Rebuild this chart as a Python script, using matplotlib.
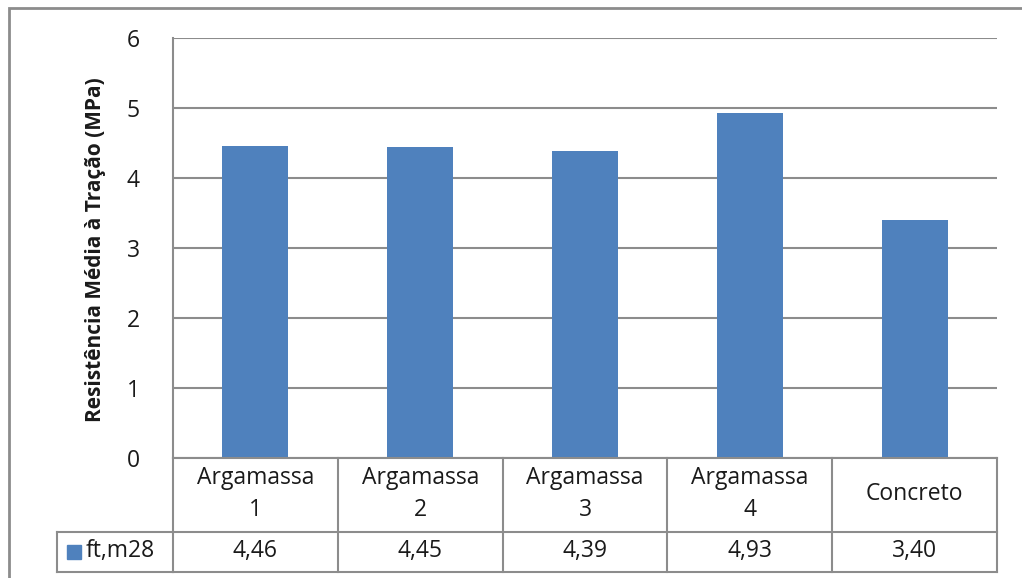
import matplotlib
matplotlib.use("Agg")
import matplotlib.pyplot as plt
from matplotlib.patches import Rectangle
from matplotlib.lines import Line2D
from matplotlib.transforms import blended_transform_factory

# data
categories = ["Argamassa\n1", "Argamassa\n2", "Argamassa\n3", "Argamassa\n4", "Concreto"]
values = [4.46, 4.45, 4.39, 4.93, 3.40]
value_labels = ["4,46", "4,45", "4,39", "4,93", "3,40"]
series_name = "ft,m28"
y_label = "Resistência Média à Tração (MPa)"
y_ticks = [0, 1, 2, 3, 4, 5, 6]

W, H = 1022, 578
BAR = "#4F81BD"
GRID = "#8C8C8C"
TXT = "#1a1a1a"
FS = 16.5

plt.rcParams["font.family"] = ["Open Sans", "DejaVu Sans"]

fig = plt.figure(figsize=(W / 100, H / 100), dpi=100)
fig.patch.set_facecolor("white")


def fx(x):
    return x / W


def fy(y):
    return 1 - y / H


# plot area in pixel terms
left, right, top, bottom = 173, 997, 38, 458
ax = fig.add_axes([fx(left), fy(bottom), fx(right - left), (bottom - top) / H])

x = list(range(len(values)))
ax.bar(x, values, width=0.4, color=BAR, zorder=3)
ax.set_xlim(-0.5, len(values) - 0.5)
ax.set_ylim(0, 6)
ax.set_yticks(y_ticks)
ax.set_yticklabels([str(t) for t in y_ticks], fontsize=FS, color=TXT)
ax.tick_params(axis="y", length=0, pad=24)
ax.set_xticks([])
ax.yaxis.grid(True, color=GRID, lw=1.5, zorder=0)
for s in ["top", "right", "bottom"]:
    ax.spines[s].set_visible(False)
ax.spines["left"].set_color(GRID)
ax.spines["left"].set_linewidth(1.5)

fig.text(fx(96), fy(250), y_label, rotation=90, ha="center", va="center",
         fontsize=15, fontweight="bold", color=TXT)

# data table below the plot: x in data units, y in figure units
tr = blended_transform_factory(ax.transData, fig.transFigure)
row1, row2, row3 = fy(458), fy(532), fy(572)
x0, x1 = -0.5, len(values) - 0.5

line_kw = dict(color=GRID, lw=1.5, transform=tr, clip_on=False)
fig.add_artist(Line2D([x0, x1], [row1, row1], **line_kw))
for yy in (row2, row3):
    fig.add_artist(Line2D([x0, x1], [yy, yy], **line_kw))
for b in range(len(values) + 1):
    fig.add_artist(Line2D([b - 0.5, b - 0.5], [row1, row3], **line_kw))

# legend cell
fig.add_artist(Line2D([fx(57), fx(left)], [row2, row2], color=GRID, lw=1.5))
fig.add_artist(Line2D([fx(57), fx(left)], [row3, row3], color=GRID, lw=1.5))
fig.add_artist(Line2D([fx(57), fx(57)], [row2, row3], color=GRID, lw=1.5))
fig.add_artist(Rectangle((fx(67), fy(559)), fx(14), 14 / H, color=BAR,
                         transform=fig.transFigure))
fig.text(fx(86), fy(551), series_name, ha="left", va="center", fontsize=FS,
         color=TXT)

for i, (cat, lab) in enumerate(zip(categories, value_labels)):
    fig.text(i, fy(494), cat, transform=tr, ha="center", va="center",
             fontsize=FS, color=TXT, linespacing=1.4)
    fig.text(i, fy(551), lab, transform=tr, ha="center", va="center",
             fontsize=FS, color=TXT)

# outer chart border
fig.add_artist(Rectangle((fx(9), fy(600)), fx(1040), 592 / H, fill=False,
                         edgecolor="#8C8C8C", lw=2, transform=fig.transFigure))

fig.savefig("out.png", dpi=100)
